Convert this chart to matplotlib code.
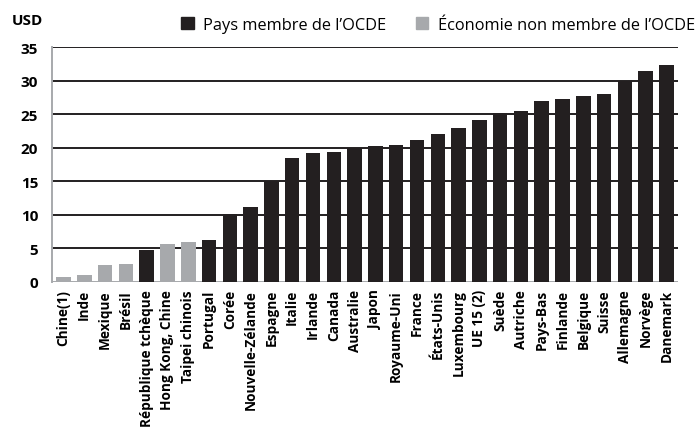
import matplotlib
matplotlib.use('Agg')
import matplotlib.pyplot as plt
from matplotlib.patches import Patch

# data
countries = ['Chine(1)', 'Inde', 'Mexique', 'Brésil', 'République tchèque',
             'Hong Kong, Chine', 'Taipei chinois', 'Portugal', 'Corée',
             'Nouvelle-Zélande', 'Espagne', 'Italie', 'Irlande', 'Canada',
             'Australie', 'Japon', 'Royaume-Uni', 'France', 'États-Unis',
             'Luxembourg', 'UE 15 (2)', 'Suède', 'Autriche', 'Pays-Bas',
             'Finlande', 'Belgique', 'Suisse', 'Allemagne', 'Norvège', 'Danemark']
usd = [0.7, 1.0, 2.5, 2.7, 4.8, 5.6, 5.9, 6.2, 10.2, 11.1, 15.0, 18.4, 19.2,
       19.3, 20.0, 20.2, 20.4, 21.1, 22.0, 23.0, 24.1, 25.1, 25.4, 26.9, 27.2,
       27.7, 28.0, 30.0, 31.5, 32.3]
oecd = [False, False, False, False, True, False, False, True, True, True,
        True, True, True, True, True, True, True, True, True, True, True,
        True, True, True, True, True, True, True, True, True]
yticks = [0, 5, 10, 15, 20, 25, 30, 35]

BLACK = '#231f20'
GREY = '#a7a9ac'

plt.rcParams['font.family'] = ['Open Sans', 'DejaVu Sans']

fig = plt.figure(figsize=(6.97, 4.39), dpi=100)
ax = fig.add_axes([52/697, 1-283/439, (678-52)/697, (283-48)/439])

cols = [BLACK if o else GREY for o in oecd]
x = range(len(countries))

# grid lines and zero line behind the bars
for t in yticks[1:]:
    ax.axhline(t, color=BLACK, lw=1.4, zorder=1)
ax.axhline(0, color=GREY, lw=1.4, zorder=1)
ax.bar(x, usd, width=0.7, color=cols, zorder=2)

ax.set_xlim(-0.55, len(countries) - 1 + 0.55)
ax.set_ylim(0, 35)
ax.set_yticks(yticks)
ax.set_yticklabels([str(t) for t in yticks], fontsize=11, fontweight='bold')
ax.set_xticks(list(x))
ax.set_xticklabels(countries, rotation=90, fontsize=9.8, fontweight='bold')
ax.tick_params(axis='both', length=0, pad=5)
ax.tick_params(axis='y', pad=10)

for s in ['top', 'right', 'bottom']:
    ax.spines[s].set_visible(False)
ax.spines['left'].set_color(GREY)
ax.spines['left'].set_linewidth(1.4)

fig.text(12/697, 1-21/439, 'USD', fontsize=11, fontweight='bold', va='center')

handles = [Patch(color=BLACK, label='Pays membre de l\u2019OCDE'),
           Patch(color=GREY, label='Économie non membre de l\u2019OCDE')]
fig.legend(handles=handles, ncol=2, loc='center right',
           bbox_to_anchor=(1.0, 1-26/439), frameon=False, fontsize=11.8,
           handlelength=0.75, handleheight=0.75, handletextpad=0.6,
           columnspacing=1.8, borderpad=0.1, borderaxespad=0.0)

fig.savefig('out.png', dpi=100)
